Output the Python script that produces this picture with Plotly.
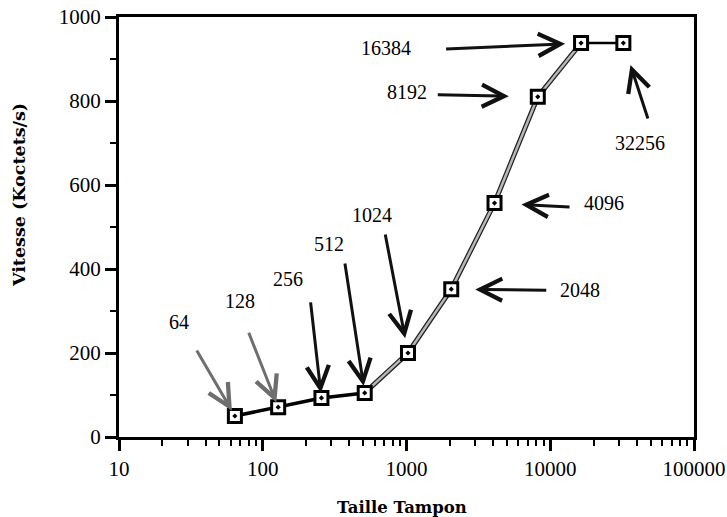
import math
import plotly.graph_objects as go

# ---- data ----
taille = [64, 128, 256, 512, 1024, 2048, 4096, 8192, 16384, 32256]
vitesse = [50, 71, 93, 105, 200, 352, 557, 810, 938, 938]
labels = ["64", "128", "256", "512", "1024", "2048", "4096", "8192", "16384", "32256"]
x_tickvals = [10, 100, 1000, 10000, 100000]
x_ticktext = ["10", "100", "1000", "10000", "100000"]
y_tickvals = [0, 200, 400, 600, 800, 1000]
x_title = "Taille Tampon"
y_title = "Vitesse (Koctets/s)"

# ---- annotation styling (pixel offsets relative to each point) ----
arrow_ax = [-39, -30, -11, -20, -23, 96, 76, -101, -136, 25]
arrow_ay = [-67, -76, -97, -131, -120, 1, 4, -2, 6, 77]
arrow_standoff = [6, 5, 5, 7, 15, 24, 27, 29, 16, 23]
arrow_color = ["#6e6e6e", "#6e6e6e", "#111", "#111", "#111", "#111", "#111", "#111", "#111", "#111"]
label_dx = [-56, -38, -33, -36, -36, 129, 109, -131, -195, 17]
label_dy = [94, 106, 119, 149, 138, -1, 0, 5, -5, -100]

SERIF = "Liberation Serif"
TITLE_FONT = "DejaVu Serif"

fig = go.Figure()

# black segment 64..512
fig.add_trace(go.Scatter(x=taille[0:4], y=vitesse[0:4], mode="lines",
                         line=dict(color="black", width=3.5), hoverinfo="skip"))
# grey segment 512..16384 (black edge + grey core)
fig.add_trace(go.Scatter(x=taille[3:9], y=vitesse[3:9], mode="lines",
                         line=dict(color="#222", width=5), hoverinfo="skip"))
fig.add_trace(go.Scatter(x=taille[3:9], y=vitesse[3:9], mode="lines",
                         line=dict(color="#b8b8b8", width=2.5), hoverinfo="skip"))
# black segment 16384..32256
fig.add_trace(go.Scatter(x=taille[8:10], y=vitesse[8:10], mode="lines",
                         line=dict(color="black", width=2.5), hoverinfo="skip"))
# markers
fig.add_trace(go.Scatter(x=taille, y=vitesse, mode="markers",
                         marker=dict(symbol="square-dot", size=13, color="white",
                                     line=dict(color="black", width=3)),
                         hoverinfo="skip"))

annotations = []
for i in range(len(taille)):
    lx = math.log10(taille[i])  # annotations on log axes use log coordinates
    annotations.append(dict(
        x=lx, y=vitesse[i], xref="x", yref="y", text=" ",
        font=dict(size=2),
        showarrow=True, ax=arrow_ax[i], ay=arrow_ay[i], axref="pixel", ayref="pixel",
        arrowhead=5, arrowsize=1.45, arrowwidth=3, arrowcolor=arrow_color[i],
        standoff=arrow_standoff[i], borderpad=0))
    annotations.append(dict(
        x=lx, y=vitesse[i], xref="x", yref="y", text=labels[i],
        showarrow=False, xshift=label_dx[i], yshift=label_dy[i],
        font=dict(family=SERIF, size=20, color="black")))

# axis titles as annotations (precise placement)
annotations.append(dict(
    x=0, y=0.576, xref="paper", yref="paper", text="<b>" + y_title + "</b>",
    textangle=-90, showarrow=False, xanchor="center", yanchor="middle", xshift=-100,
    font=dict(family=TITLE_FONT, size=17.5, color="black")))
annotations.append(dict(
    x=0.5, y=0, xref="paper", yref="paper", text="<b>" + x_title + "</b>",
    showarrow=False, xanchor="center", yanchor="middle", xshift=-5, yshift=-70,
    font=dict(family=TITLE_FONT, size=16.5, color="black")))

fig.update_layout(
    width=727, height=517,
    margin=dict(l=119, r=33, t=17, b=80),
    paper_bgcolor="white", plot_bgcolor="white",
    showlegend=False,
    annotations=annotations,
    font=dict(family=SERIF, color="black"),
)

fig.update_xaxes(
    type="log", range=[1, 5], automargin=False,
    tickvals=x_tickvals, ticktext=x_ticktext,
    ticks="outside", ticklen=11, tickwidth=2.5, tickcolor="black",
    minor=dict(ticks="outside", ticklen=6, tickwidth=2, tickcolor="black", dtick="D1", showgrid=False),
    showline=True, linewidth=3, linecolor="black", mirror=True,
    showgrid=False, zeroline=False,
    tickfont=dict(family=SERIF, size=21, color="black"),
)
fig.update_yaxes(
    range=[0, 1000], automargin=False,
    tickvals=y_tickvals,
    ticks="outside", ticklen=11, tickwidth=2.5, tickcolor="black",
    minor=dict(ticks="outside", ticklen=6, tickwidth=2, tickcolor="black", dtick=100, showgrid=False),
    showline=True, linewidth=3, linecolor="black", mirror=True,
    showgrid=False, zeroline=False,
    tickfont=dict(family=SERIF, size=21, color="black"),
)

# remove the default page margin so the 727x517 figure fills the window exactly
fig.write_html("out.html",
               config={"displayModeBar": False},
               post_script="document.body.style.margin='0';document.body.style.overflow='hidden';")
